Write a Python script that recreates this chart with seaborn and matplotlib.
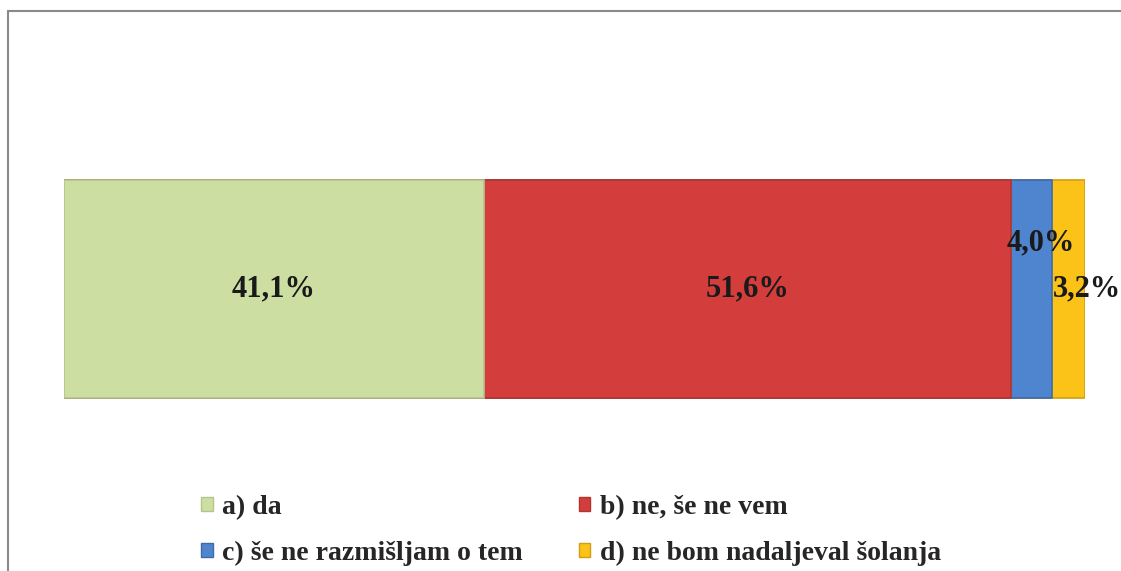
import numpy as np
import pandas as pd
import matplotlib
matplotlib.use("Agg")
import matplotlib.pyplot as plt
from matplotlib.patches import Patch
from matplotlib.lines import Line2D
import seaborn as sns

# ----------------------------
# Data
# ----------------------------
categories = ['a) da', 'b) ne, še ne vem', 'c) še ne razmišljam o tem', 'd) ne bom nadaljeval šolanja']
shares     = [41.1, 51.6, 4.0, 3.2]
labels     = ['41,1%', '51,6%', '4,0%', '3,2%']
colors     = ['#cddea3', '#d33e3d', '#4f85cf', '#fbc318']
edges      = ['#b5c48c', '#b23432', '#3f6aa8', '#d19e10']

sns.set_theme(style="white")
plt.rcParams['font.family'] = ['Liberation Serif', 'DejaVu Serif']

df = pd.DataFrame({'cat': categories, 'share': shares})
df['cum'] = df['share'].cumsum()

fig = plt.figure(figsize=(11.21, 5.71), dpi=100)
ax = fig.add_axes([64 / 1121, 0, (1085 - 64) / 1121, 1])

# stacked bar: draw cumulative widths from the back to the front
for i in reversed(range(len(df))):
    sns.barplot(x=[df['cum'].iloc[i]], y=['q'], color=colors[i], ax=ax,
                width=0.8, saturation=1, edgecolor=edges[i], linewidth=1.2)

ax.set_xlim(0, df['cum'].iloc[-1])
ax.set_ylim(1.0348, -1.0606)
ax.axis('off')

# data labels (Excel-ish placement)
mids = df['cum'] - df['share'] / 2
txt_kw = dict(fontsize=22, fontweight='bold', color='#1a1a1a', ha='center', va='center')
ax.text(mids[0], 0.0, labels[0], **txt_kw)
ax.text(mids[1], 0.0, labels[1], **txt_kw)
ax.text(mids[2] + 0.9, -0.17, labels[2], **txt_kw)
ax.text(df['cum'].iloc[3] + 0.2, 0.0, labels[3], **txt_kw)

# chart area frame (top + left edge visible)
fig.add_artist(Line2D([8 / 1121, 8 / 1121], [0, 1 - 11 / 571], color='#8a8a8a', lw=1.5))
fig.add_artist(Line2D([8 / 1121, 1], [1 - 11 / 571, 1 - 11 / 571], color='#8a8a8a', lw=1.5))

# legend: row 1 a/b, row 2 c/d
order = [0, 2, 1, 3]
handles = [Patch(facecolor=colors[i], edgecolor=edges[i], label=categories[i]) for i in order]
fig.legend(handles=handles, ncol=2, loc='upper left',
           bbox_to_anchor=(176 / 1121, 1 - 470 / 571), frameon=False,
           prop={'family': 'Liberation Serif', 'weight': 'bold', 'size': 20},
           handlelength=0.42, handleheight=0.42, handletextpad=0.35,
           columnspacing=2.0, labelspacing=0.75)

fig.savefig('out.png', dpi=100)
